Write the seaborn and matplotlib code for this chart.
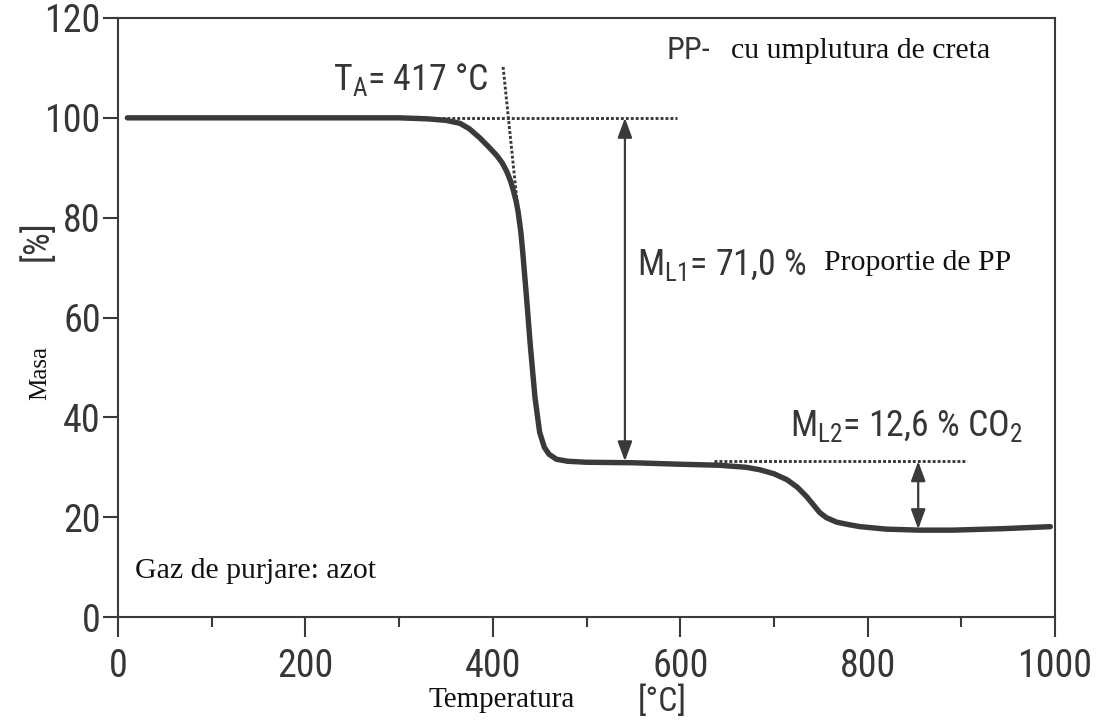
import os
import matplotlib
matplotlib.use("Agg")
import matplotlib.pyplot as plt
import seaborn as sns
import pandas as pd
from matplotlib import font_manager
from matplotlib.font_manager import FontProperties

# ---------------- data ----------------
temp = [10, 100, 200, 300, 330, 350, 365, 375, 386, 395, 404, 410, 415, 419,
        422, 425, 427, 430, 432, 436, 440, 445, 450, 455, 460, 468, 480, 500,
        550, 600, 642, 670, 685, 700, 714, 725, 735, 742, 749, 756, 767, 780,
        792, 820, 856, 891, 945, 995]
mass = [100, 100, 100, 100, 99.8, 99.5, 98.9, 97.8, 96.0, 94.3, 92.5, 91.0,
        89.2, 87.3, 85.4, 83.2, 81.2, 77.0, 73.0, 64.0, 54.5, 44.0, 37.0, 34.0,
        32.6, 31.6, 31.2, 31.0, 30.9, 30.6, 30.4, 30.0, 29.5, 28.7, 27.5, 26.0,
        24.1, 22.5, 20.9, 19.9, 19.0, 18.5, 18.1, 17.6, 17.4, 17.4, 17.7, 18.1]
x_ticks = [0, 200, 400, 600, 800, 1000]
x_minor = [100, 300, 500, 700, 900]
y_ticks = [0, 20, 40, 60, 80, 100, 120]

onset_temp = 417          # T_A
step1_level = 100
step2_level = 31.2
final_level = 17.6
ml1_text = "71,0"
ml2_text = "12,6"

# ---------------- fonts ----------------
SERIF = "Liberation Serif"
pref = ["Liberation Sans Narrow", "Arial Narrow", "Nimbus Sans Narrow",
        "Roboto Condensed", "Open Sans Condensed", "Noto Sans", "Roboto",
        "Open Sans", "DejaVu Sans"]
cands = []
for f in font_manager.fontManager.ttflist:
    if f.style != "normal" or str(f.weight) not in ("400", "normal", "regular"):
        continue
    nm = f.name
    base = os.path.basename(f.fname)
    narrow = ("Narrow" in nm or "Condensed" in nm or "Condensed" in base
              or str(f.stretch) in ("condensed", "semi-condensed", "extra-condensed"))
    if not narrow or "Mono" in nm or "Serif" in nm:
        continue
    rank = None
    for i, p in enumerate(pref):
        if nm.startswith(p):
            rank = i
            break
    if rank is not None:
        cands.append((rank, f))
cands.sort(key=lambda t: t[0])

sns.set_theme(style="ticks")
if cands:
    cf = cands[0][1]
    SANS, STRETCH = cf.name, str(cf.stretch)
else:
    SANS, STRETCH = "Liberation Sans", "normal"

plt.rcParams["font.family"] = [SANS, "DejaVu Sans"]
plt.rcParams["font.stretch"] = STRETCH
plt.rcParams["mathtext.fontset"] = "custom"
plt.rcParams["mathtext.rm"] = f"{SANS}:stretch={STRETCH}"
plt.rcParams["mathtext.it"] = f"{SANS}:stretch={STRETCH}"
plt.rcParams["mathtext.bf"] = f"{SANS}:stretch={STRETCH}"

DARK = "#3a3a3a"
TXT = "#363636"

W, H = 1107, 721
fig = plt.figure(figsize=(W / 100, H / 100), dpi=100)
fig.patch.set_facecolor("white")

# width correction so the sans texts span about as much as the narrow original
renderer = fig.canvas.get_renderer()
wpx, _, _ = renderer.get_text_width_height_descent(
    "0123456789", FontProperties(family=SANS, stretch=STRETCH, size=100), ismath=False)
ratio = wpx / (100 * 100 / 72)
scale = min(1.0, 4.56 / ratio)
soft = scale ** 0.5

left, right, top, bottom = 118, 1055, 18, 617
ax = fig.add_axes([left / W, 1 - bottom / H, (right - left) / W, (bottom - top) / H])
ax.set_facecolor("white")

df = pd.DataFrame({"temp": temp, "mass": mass})
sns.lineplot(data=df, x="temp", y="mass", ax=ax, color=DARK, lw=3.9,
             estimator=None, sort=False, solid_capstyle="round",
             solid_joinstyle="round")

ax.set_xlim(0, 1000)
ax.set_ylim(0, 120)
ax.set_xlabel("")
ax.set_ylabel("")
ax.set_xticks(x_ticks)
ax.set_xticks(x_minor, minor=True)
ax.set_yticks(y_ticks)
ax.set_xticklabels([str(v) for v in x_ticks])
ax.set_yticklabels([str(v) for v in y_ticks])

for s in ax.spines.values():
    s.set_visible(True)
    s.set_color(DARK)
    s.set_linewidth(1.5)

tick_size = 28.5 * soft
ax.tick_params(axis="x", which="major", direction="out", length=14.5, width=1.5,
               color=DARK, labelsize=tick_size, labelcolor=TXT, pad=8)
ax.tick_params(axis="x", which="minor", direction="out", length=7, width=1.5,
               color=DARK)
ax.tick_params(axis="y", which="major", direction="out", length=11, width=1.5,
               color=DARK, labelsize=tick_size, labelcolor=TXT, pad=1.5)

# ---------------- construction lines ----------------
dot = (0, (1, 0.7))
ax.plot([330, 597], [step1_level, step1_level], color=DARK, lw=2.1, linestyle=dot)
ax.plot([411, 427], [110.2, 81.2], color=DARK, lw=2.1, linestyle=dot)
ax.plot([636, 906], [step2_level, step2_level], color=DARK, lw=2.1, linestyle=dot)

arrow_kw = dict(arrowstyle="<|-|>,head_length=0.6,head_width=0.22", color=DARK,
                lw=1.6, mutation_scale=20, shrinkA=0, shrinkB=0)
ax.annotate("", xy=(541, step2_level), xytext=(541, step1_level), arrowprops=arrow_kw)
ax.annotate("", xy=(854, final_level), xytext=(854, step2_level), arrowprops=arrow_kw)

# ---------------- annotations ----------------
ann = 28 * scale
ax.text(229.5, 105.5, r"T$_{\mathrm{A}}$= " + f"{onset_temp} °C", fontsize=ann,
        color=TXT, va="baseline", ha="left")
ax.text(585, 111.8, "PP-", fontsize=25 * scale, color=TXT, va="baseline", ha="left")
ax.text(654, 112, "cu umplutura de creta", fontsize=21.5, family=SERIF,
        color="#111111", va="baseline", ha="left")
ax.text(554, 68.5, r"M$_{\mathrm{L1}}$= " + f"{ml1_text} %", fontsize=ann,
        color=TXT, va="baseline", ha="left")
ax.text(753.5, 69.6, "Proportie de PP", fontsize=21.5, family=SERIF,
        color="#111111", va="baseline", ha="left")
ax.text(717, 36.2, r"M$_{\mathrm{L2}}$= " + f"{ml2_text} % CO" + r"$_{\mathrm{2}}$",
        fontsize=ann, color=TXT, va="baseline", ha="left")
ax.text(18, 7.8, "Gaz de purjare: azot", fontsize=21.5, family=SERIF,
        color="#111111", va="baseline", ha="left")

# axis titles (two-part, mixed fonts)
fig.text(502 / W, 1 - 700 / H, "Temperatura", fontsize=21, family=SERIF,
         color="#111111", ha="center", va="center")
fig.text(662 / W, 1 - 702 / H, "[°C]", fontsize=25.5 * soft, color=TXT,
         ha="center", va="center")
fig.text(40 / W, 1 - 373 / H, "Masa", fontsize=18, family=SERIF,
         color="#111111", ha="center", va="center", rotation=90)
fig.text(38 / W, 1 - 241 / H, "[%]", fontsize=27 * soft, color=TXT,
         ha="center", va="center", rotation=90)

fig.savefig("out.png", dpi=100, facecolor="white")
